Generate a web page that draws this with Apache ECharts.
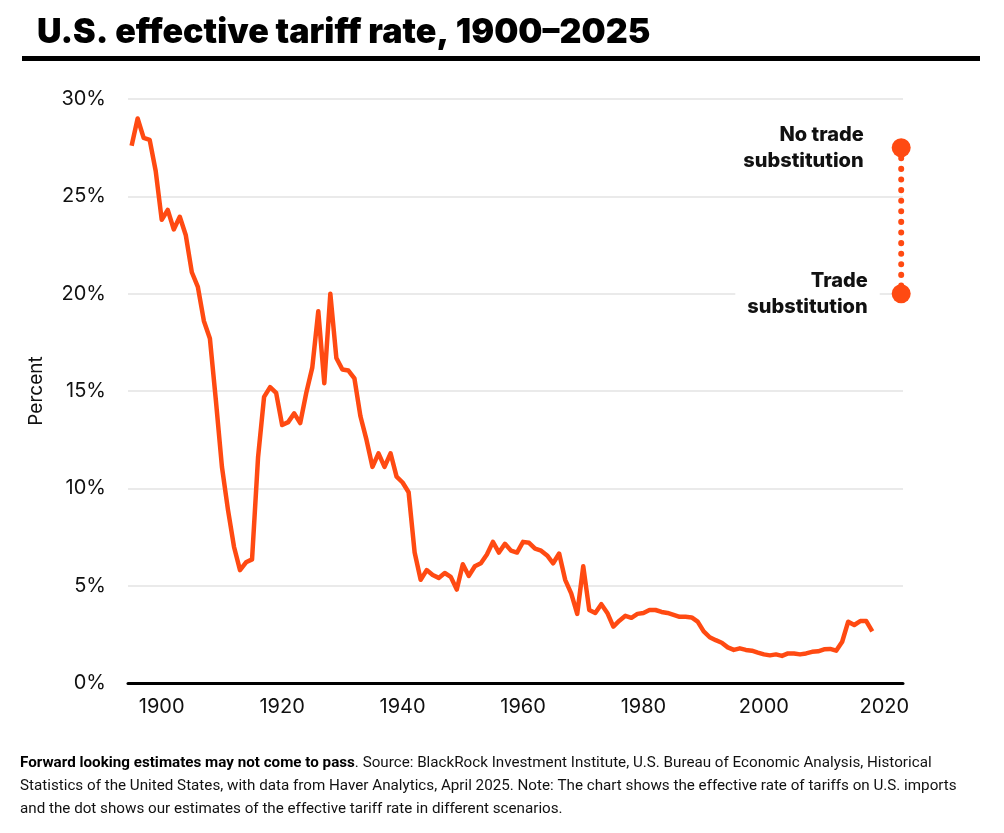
<!DOCTYPE html>
<html><head><meta charset="utf-8">
<script src="https://cdn.jsdelivr.net/npm/echarts@6/dist/echarts.min.js"></script>
<style>
html,body{margin:0;padding:0;background:#fff;}
#c{width:1004px;height:833px;}
</style></head><body><div id="c"></div>
<script>
const years = [];
for (let y = 1895; y <= 2018; y++) years.push(y);
const rates = [
27.6,29.0,28.0,27.9,26.3,23.8,24.3,23.3,23.95,23.0,
21.1,20.35,18.6,17.7,14.5,11.1,8.9,7.0,5.8,6.2,
6.35,11.6,14.7,15.2,14.9,13.25,13.4,13.85,13.35,14.9,
16.2,19.1,15.4,20.0,16.7,16.1,16.05,15.65,13.7,12.5,
11.1,11.8,11.1,11.8,10.6,10.3,9.8,6.7,5.3,5.8,
5.55,5.4,5.65,5.45,4.8,6.1,5.5,6.0,6.15,6.6,
7.25,6.7,7.15,6.8,6.7,7.25,7.2,6.9,6.8,6.55,
6.15,6.65,5.3,4.6,3.55,6.0,3.75,3.6,4.05,3.6,
2.9,3.2,3.45,3.35,3.55,3.6,3.75,3.75,3.65,3.6,
3.5,3.4,3.4,3.37,3.15,2.65,2.35,2.2,2.07,1.83,
1.7,1.78,1.7,1.66,1.56,1.47,1.42,1.47,1.39,1.52,
1.52,1.47,1.52,1.6,1.63,1.73,1.75,1.66,2.12,3.15,
2.98,3.18,3.18,2.65
];
const scenarioYear = 2022.8;
const scenarioNames = ["No trade\nsubstitution", "Trade\nsubstitution"];
const scenarioValues = [27.5, 20.0];
const xTicks = [1900,1920,1940,1960,1980,2000,2020];

const orange = '#ff4a12';
const chart = echarts.init(document.getElementById('c'));
chart.setOption({
  animation:false,
  backgroundColor:'#fff',
  textStyle:{fontFamily:'Inter'},
  title:{text:'U.S. effective tariff rate, 1900–2025', left:32, top:11,
    textStyle:{fontFamily:'Inter', fontWeight:900, fontSize:34, color:'#000'}},
  graphic:[
    {type:'rect', shape:{x:22,y:56,width:958,height:5}, style:{fill:'#000'}},
    {type:'text', left:20, top:752, style:{
      lineHeight:23,
      text:'{b|Forward looking estimates may not come to pass}. Source: BlackRock Investment Institute, U.S. Bureau of Economic Analysis, Historical\nStatistics of the United States, with data from Haver Analytics, April 2025. Note: The chart shows the effective rate of tariffs on U.S. imports\nand the dot shows our estimates of the effective tariff rate in different scenarios.',
      fontFamily:'Roboto', fontSize:15.2, fill:'#111',
      rich:{b:{fontWeight:'bold', fontSize:15.2, fontFamily:'Roboto', fill:'#000'}}
    }}
  ],
  grid:{left:128, right:101, top:99, bottom:150},
  xAxis:{type:'value', min:1894.4, max:2023.1,
    axisLine:{lineStyle:{color:'#000', width:3}},
    axisTick:{show:false}, splitLine:{show:false},
    axisLabel:{customValues:xTicks, formatter:v=>String(v), color:'#111', fontSize:20, margin:14, fontFamily:'Inter'}},
  yAxis:{type:'value', min:0, max:30, interval:5,
    name:'Percent', nameLocation:'middle', nameGap:82, nameRotate:90,
    nameTextStyle:{fontSize:19, color:'#111', fontFamily:'Inter'},
    axisLine:{show:false}, axisTick:{show:false},
    splitLine:{lineStyle:{color:'#e3e3e3', width:1.5}},
    axisLabel:{formatter:v=>v+'%', color:'#111', fontSize:20, margin:22, fontFamily:'Inter'}},
  series:[
    {type:'line', data:years.map((y,i)=>[y,rates[i]]), showSymbol:false, symbol:'none',
      lineStyle:{color:orange, width:4.5, join:'round'}},
    {type:'line', data:scenarioValues.map(v=>[scenarioYear,v]), symbol:'none',
      lineStyle:{color:orange, width:6, type:[0.1,10.5], cap:'round'}, z:3},
    {type:'scatter', symbolSize:19, itemStyle:{color:orange, opacity:1}, z:4,
      data:scenarioValues.map((v,i)=>({value:[scenarioYear,v], name:scenarioNames[i],
        label:{show:true, position:'left', distance:i===0?16:12,
          formatter:scenarioNames[i], align:'right', fontFamily:'Inter', fontWeight:800,
          fontSize:20, lineHeight:26, color:'#111', backgroundColor:'#fff',
          padding:[0,12,0,12]}}))}
  ]
});
</script></body></html>
